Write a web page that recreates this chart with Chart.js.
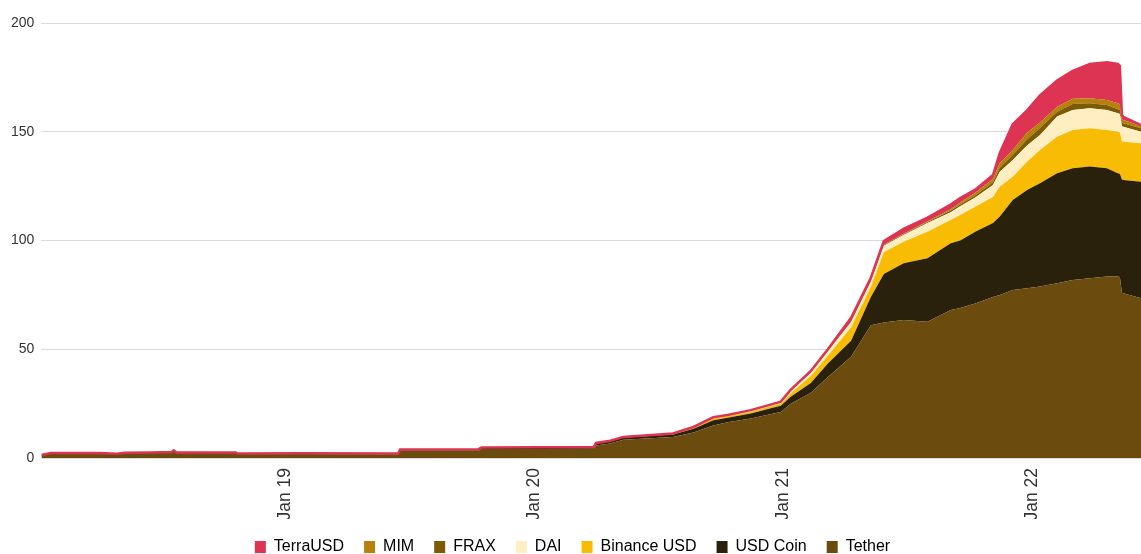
<!DOCTYPE html>
<html>
<head>
<meta charset="utf-8">
<script src="https://cdn.jsdelivr.net/npm/chart.js@4.4.1/dist/chart.umd.min.js"></script>
<style>
  html, body { margin: 0; padding: 0; background: #fff; }
  #chart { display: block; }
</style>
</head>
<body>
<canvas id="chart" width="1141" height="554"></canvas>
<script>
// stablecoin supply, billions USD
const dates = [
  '2018-01-09', '2018-01-23', '2018-04-04', '2018-04-30', '2018-05-11', '2018-06-17',
  '2018-07-19', '2018-07-22', '2018-07-26', '2018-10-21', '2018-10-24', '2019-01-23',
  '2019-06-16', '2019-06-19', '2019-10-12', '2019-10-16', '2020-01-09', '2020-03-29',
  '2020-04-01', '2020-04-22', '2020-05-11', '2020-07-23', '2020-08-22', '2020-09-20',
  '2020-10-11', '2020-11-14', '2020-12-09', '2020-12-28', '2021-01-11', '2021-02-10',
  '2021-03-07', '2021-04-10', '2021-05-09', '2021-05-28', '2021-06-26', '2021-07-31',
  '2021-09-03', '2021-09-17', '2021-10-09', '2021-11-04', '2021-11-14', '2021-12-03',
  '2021-12-24', '2022-01-12', '2022-02-06', '2022-03-01', '2022-03-26', '2022-04-20',
  '2022-05-06', '2022-05-09', '2022-05-12', '2022-05-14', '2022-06-09'
];
const tether = [
  1.35, 2.2, 2.25, 1.95, 2.35, 2.5, 2.7, 3.5, 2.5, 2.45, 1.8, 1.85,
  1.75, 3.45, 3.5, 4.1, 4.1, 4.2, 5.8, 6.7, 8.4, 9.7, 11.7, 15.0,
  16.4, 18.2, 19.9, 21.2, 24.8, 30, 37.2, 46.5, 61, 62.3, 63.4, 62.7,
  68, 69, 71, 74, 75, 77.2, 78, 78.8, 80.3, 81.8, 82.6, 83.4,
  83.4, 83.2, 76.0, 75.8, 73.4
];
const usdCoin = [
  0, 0, 0, 0, 0, 0, 0, 0, 0, 0.05, 0.15, 0.2,
  0.3, 0.35, 0.45, 0.5, 0.55, 0.6, 0.8, 0.9, 0.95, 1.1, 1.8, 2.4,
  2.1, 2.3, 2.6, 2.8, 3.2, 4.5, 6.2, 7.4, 13, 22.3, 26.1, 29.1,
  30.7, 31, 33, 34, 36, 41.4, 45.2, 47.5, 50.6, 51.4, 51.4, 49.8,
  47.5, 47.5, 52, 52, 53.6
];
const binanceUsd = [
  0, 0, 0, 0, 0, 0, 0, 0, 0, 0, 0, 0,
  0, 0, 0.02, 0.1, 0.15, 0.2, 0.2, 0.2, 0.25, 0.3, 0.5, 0.7,
  0.7, 0.8, 0.9, 1.0, 1.5, 3.2, 3.6, 6.2, 4.6, 10, 9.9, 12.2,
  10.7, 11.7, 11.5, 12, 13.7, 10.7, 13, 15.3, 16.8, 17.6, 17.6, 17.6,
  19.1, 19.0, 17.6, 17.6, 17.7
];
const dai = [
  0.05, 0.05, 0.05, 0.05, 0.05, 0.05, 0.05, 0.05, 0.05, 0.05, 0.08, 0.08,
  0.07, 0.07, 0.08, 0.1, 0.1, 0.1, 0.1, 0.1, 0.1, 0.15, 0.3, 0.6,
  0.6, 0.7, 0.8, 0.9, 1.2, 1.5, 2.1, 2.3, 2.4, 3.0, 3.1, 4.0,
  3.6, 4.0, 4.3, 5.5, 6.9, 7.7, 7.5, 6.9, 9.3, 9.2, 9.2, 9.2,
  8.5, 8.5, 7.0, 6.9, 5.3
];
const frax = [
  0, 0, 0, 0, 0, 0, 0, 0, 0, 0, 0, 0,
  0, 0, 0, 0, 0, 0, 0, 0, 0, 0, 0, 0,
  0, 0, 0, 0, 0.1, 0.2, 0.2, 0.3, 0.3, 0.3, 0.4, 0.5,
  0.8, 0.8, 0.9, 1.3, 1.8, 2.3, 2.8, 3.2, 2.2, 2.8, 2.3, 2.3,
  1.8, 1.8, 1.6, 1.6, 1.6
];
const mim = [
  0, 0, 0, 0, 0, 0, 0, 0, 0, 0, 0, 0,
  0, 0, 0, 0, 0, 0, 0, 0, 0, 0, 0, 0,
  0, 0, 0, 0, 0, 0, 0, 0, 0, 0.1, 0.2, 0.3,
  0.6, 1.0, 1.2, 1.5, 2.2, 2.3, 3.0, 2.5, 2.3, 2.4, 2.3, 2.3,
  2.8, 2.7, 1.5, 1.5, 1.0
];
const terraUsd = [
  0, 0, 0, 0, 0, 0, 0, 0, 0, 0, 0, 0,
  0, 0, 0, 0, 0, 0, 0, 0, 0, 0, 0, 0,
  0, 0, 0, 0, 0.4, 0.6, 0.7, 1.8, 1.6, 1.7, 2.3, 1.7,
  2.1, 2.0, 1.5, 1.8, 4.7, 11.8, 10.3, 12.5, 12.1, 12.8, 15.8, 17.4,
  18.1, 17.5, 2.2, 1.4, 0.5
];
const yearTicks = [2019, 2020, 2021, 2022];

const times = dates.map(d => Date.parse(d + 'T00:00:00Z'));
const toPoints = vals => vals.map((v, i) => ({ x: times[i], y: v }));

// bottom of the stack first, legend is reversed
const series = [
  { label: 'Tether', data: tether, color: '#6b4c0e' },
  { label: 'USD Coin', data: usdCoin, color: '#2a210d' },
  { label: 'Binance USD', data: binanceUsd, color: '#f8bc05' },
  { label: 'DAI', data: dai, color: '#ffeec2' },
  { label: 'FRAX', data: frax, color: '#7b5c04' },
  { label: 'MIM', data: mim, color: '#b5800b' },
  { label: 'TerraUSD', data: terraUsd, color: '#dc3452' },
];

const font = 'Arial, "Liberation Sans", sans-serif';

new Chart(document.getElementById('chart'), {
  type: 'line',
  data: {
    datasets: series.map((s, i) => ({
      label: s.label,
      data: toPoints(s.data),
      backgroundColor: s.color,
      borderColor: s.color,
      borderWidth: s.label === 'TerraUSD' ? 2.5 : 0,
      pointRadius: 0,
      tension: 0,
      fill: i === 0 ? 'origin' : '-1',
    })),
  },
  options: {
    responsive: false,
    animation: false,
    layout: { padding: { top: 23, left: 4, right: 0, bottom: 0 } },
    scales: {
      x: {
        type: 'linear',
        min: times[0],
        max: times[times.length - 1],
        grid: { display: false, drawTicks: false },
        border: { display: false },
        afterBuildTicks: axis => {
          axis.ticks = yearTicks.map(y => ({ value: Date.UTC(y, 0, 1) }));
        },
        afterFit: axis => { axis.height = 61; },
        ticks: {
          autoSkip: false,
          maxRotation: 90,
          minRotation: 90,
          padding: 10,
          color: '#333',
          font: { family: font, size: 17.5 },
          callback: v => 'Jan ' + String(new Date(v).getUTCFullYear()).slice(2),
        },
      },
      y: {
        stacked: true,
        min: 0,
        max: 200,
        grid: { color: '#dadada', lineWidth: 1, drawTicks: false },
        border: { display: false },
        ticks: {
          stepSize: 50,
          padding: 7,
          color: '#333',
          font: { family: font, size: 14 },
        },
      },
    },
    plugins: {
      filler: { drawTime: 'beforeDatasetsDraw' },
      tooltip: { enabled: false },
      legend: {
        position: 'bottom',
        reverse: true,
        maxHeight: 35,
        labels: {
          boxWidth: 11,
          boxHeight: 12,
          padding: 20,
          color: '#222',
          font: { family: font, size: 16 },
          generateLabels: chart => chart.data.datasets.map((ds, i) => ({
            text: ds.label,
            fillStyle: ds.backgroundColor,
            strokeStyle: ds.backgroundColor,
            lineWidth: 0,
            datasetIndex: i,
            hidden: false,
          })),
        },
      },
    },
  },
});
</script>
</body>
</html>
